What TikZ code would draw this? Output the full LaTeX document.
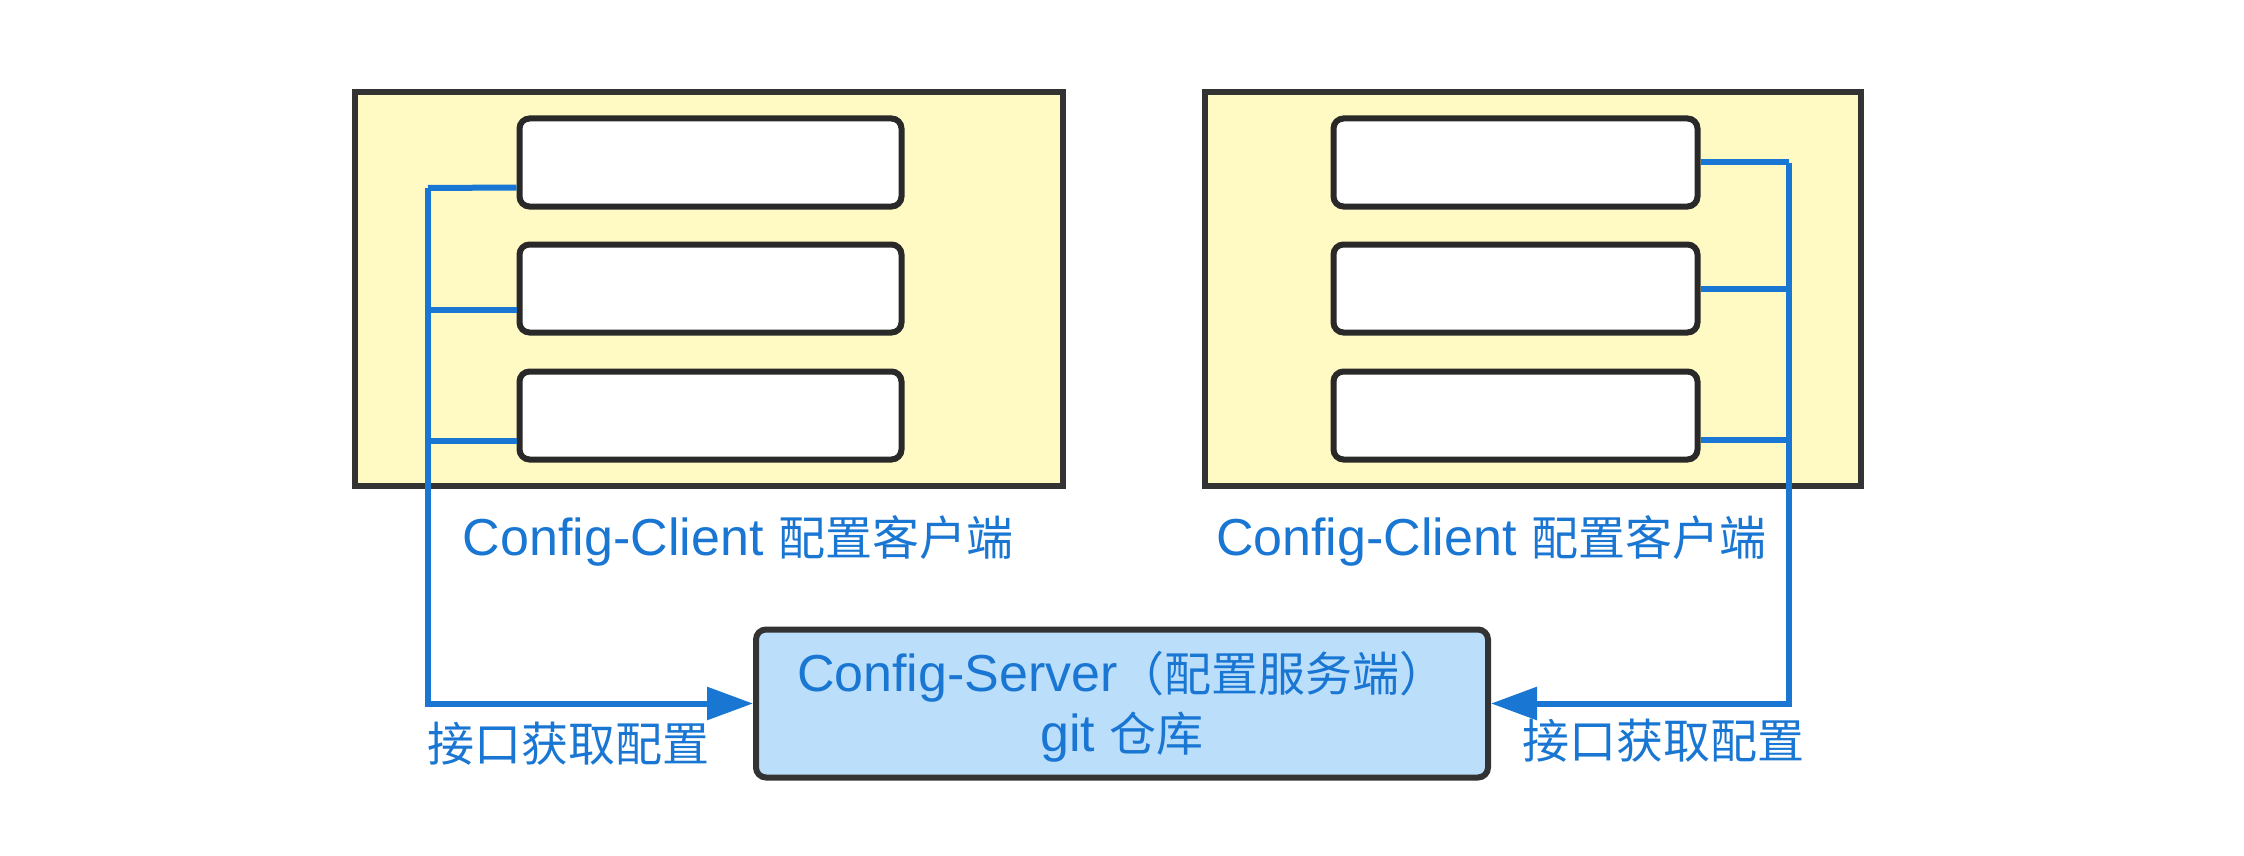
\documentclass[tikz,border=0pt]{standalone}
\usepackage{fontspec}
\setmainfont{Liberation Sans}
\newfontfamily\cjk{Noto Sans CJK SC}
\usetikzlibrary{arrows.meta,calc}
\definecolor{lnblue}{HTML}{1976D2}
\definecolor{ylw}{HTML}{FFF9C4}
\definecolor{srvfill}{HTML}{BBDEFB}
\definecolor{bord}{HTML}{333333}
\newcommand{\zh}[1]{{\cjk\fontsize{23.5}{28}\selectfont #1}}
\begin{document}
\begin{tikzpicture}[x=0.5pt,y=-0.5pt,
  ybox/.style={draw=bord,fill=ylw,line width=3pt,minimum height=197pt,inner sep=0pt},
  ibox/.style={draw=bord!80!black,fill=white,line width=3pt,rounded corners=5pt,minimum height=44pt,inner sep=0pt},
  sbox/.style={draw=bord,fill=srvfill,line width=3pt,rounded corners=5pt,minimum width=366pt,minimum height=74pt,inner sep=0pt,align=center,font=\fontsize{26}{31}\selectfont,text=lnblue},
  lbl/.style={text=lnblue,font=\fontsize{26}{31}\selectfont,inner sep=0pt},
  link/.style={draw=lnblue,line width=3pt},
  arr/.style={link,-{Triangle[length=23pt,width=16pt]}}]
\useasboundingbox (0,0) rectangle (2244,856);
% left client
\node[ybox,minimum width=354pt] (ly) at (708.5,289) {};
\node[ibox,minimum width=191pt] (l1) at (710.5,162.5) {};
\node[ibox,minimum width=191pt] (l2) at (710.5,288.5) {};
\node[ibox,minimum width=191pt] (l3) at (710.5,415.5) {};
% right client
\node[ybox,minimum width=328pt] (ry) at (1532.5,289) {};
\node[ibox,minimum width=182pt] (r1) at (1515.5,162.5) {};
\node[ibox,minimum width=182pt] (r2) at (1515.5,288.5) {};
\node[ibox,minimum width=182pt] (r3) at (1515.5,415.5) {};
% server
\node[sbox] (srv) at (1122,703.5) {\raisebox{-3pt}[\height][\depth]{\begin{tabular}{@{}c@{}}Config-Server\zh{（配置服务端）}\\[-1pt] git \zh{仓库}\end{tabular}}};
% labels
\node[lbl] (lc) at (738,541) {Config-Client \zh{配置客户端}};
\node[lbl] (rc) at (1491,541) {Config-Client \zh{配置客户端}};
\node[lbl] (la) at (568,744) {\zh{接口获取配置}};
\node[lbl] (ra) at (1663,741) {\zh{接口获取配置}};
% left connectors
\coordinate (l1p) at ($(l1.west)+(0,25)$);
\coordinate (l2p) at ($(l2.west)+(0,21)$);
\coordinate (l3p) at ($(l3.west)+(0,25)$);
\coordinate (lv) at (428,188);
\draw[link] (l1p) -- (lv);
\draw[link] (l2p) -- (l2p -| lv);
\draw[link] (l3p) -- (l3p -| lv);
\draw[arr] (lv) -- (lv |- srv.west) -- (srv.west);
% right connectors
\coordinate (r1p) at (r1.east);
\coordinate (r2p) at (r2.east);
\coordinate (r3p) at ($(r3.east)+(0,24)$);
\coordinate (rv) at (1789,163);
\draw[link] (r1p) -- (r1p -| rv);
\draw[link] (r2p) -- (r2p -| rv);
\draw[link] (r3p) -- (r3p -| rv);
\draw[arr] (rv) -- (rv |- srv.east) -- (srv.east);
\end{tikzpicture}
\end{document}
